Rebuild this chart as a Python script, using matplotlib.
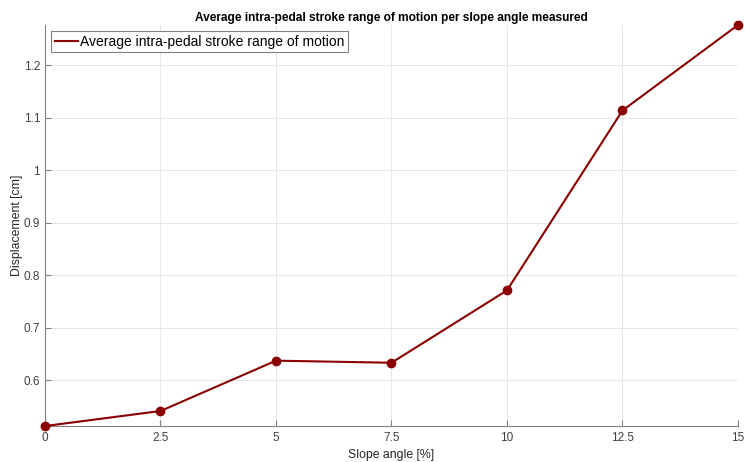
import matplotlib
matplotlib.use('Agg')
import matplotlib.pyplot as plt
from matplotlib.ticker import FuncFormatter

# --- Dados ---
slope = [0, 2.5, 5, 7.5, 10, 12.5, 15]
disp = [0.5124, 0.541, 0.637, 0.633, 0.771, 1.114, 1.277]
xticks = [0, 2.5, 5, 7.5, 10, 12.5, 15]
yticks = [0.6, 0.7, 0.8, 0.9, 1.0, 1.1, 1.2]

plt.rcParams['font.family'] = ['Liberation Sans', 'DejaVu Sans']

fig = plt.figure(figsize=(7.45, 4.62), dpi=100)
ax = fig.add_axes([0.0604, 0.0779, 0.9302, 0.868])

ax.plot(slope, disp, color='#8b0000', linewidth=1.5, marker='o', markersize=6,
        label='Average intra-pedal stroke range of motion', clip_on=False, zorder=3)

ax.set_xlim(0, 15)
ax.set_ylim(min(disp), max(disp))
ax.set_xticks(xticks)
ax.set_yticks(yticks)
ax.xaxis.set_major_formatter(FuncFormatter(lambda v, p: f'{v:g}'))
ax.yaxis.set_major_formatter(FuncFormatter(lambda v, p: f'{v:g}'))

ax.grid(True, color='#e6e6e6', linewidth=0.7)
ax.set_axisbelow(True)
for s in ['top', 'right']:
    ax.spines[s].set_visible(False)
for s in ['left', 'bottom']:
    ax.spines[s].set_color('#808080')
ax.tick_params(direction='in', colors='#404040', labelsize=8.5, length=4, color='#808080')
ax.tick_params(axis='y', pad=3.5)
ax.tick_params(axis='x', pad=4)

ax.set_title('Average intra-pedal stroke range of motion per slope angle measured',
             fontsize=8.6, fontweight='bold', pad=3)
ax.set_xlabel('Slope angle [%]', fontsize=8.8, color='#262626', labelpad=4)
ax.set_ylabel('Displacement [cm]', fontsize=8.8, color='#262626')
ax.yaxis.set_label_coords(-0.032, 0.5)

leg = ax.legend(loc='upper left', fontsize=10, fancybox=False, framealpha=1,
                edgecolor='#808080', borderpad=0.25, handlelength=1.7, handletextpad=0.15,
                borderaxespad=0.45)
leg.get_frame().set_linewidth(0.8)
leg.legend_handles[0].set_marker('')

fig.savefig('out.png', dpi=100)
